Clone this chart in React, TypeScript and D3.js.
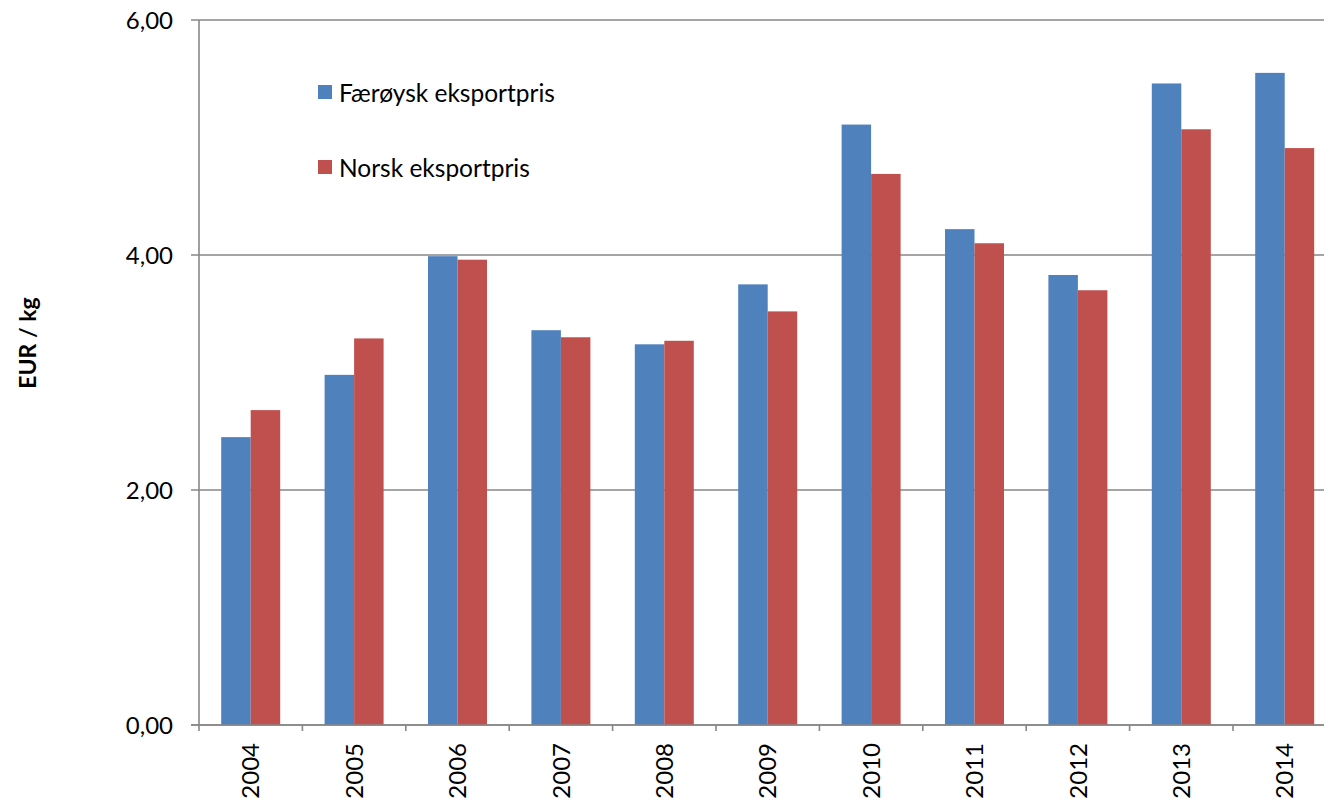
import React from "react";
import * as d3 from "d3";

const years = ["2004","2005","2006","2007","2008","2009","2010","2011","2012","2013","2014"];
const faroese = [2.45, 2.98, 3.99, 3.36, 3.24, 3.75, 5.11, 4.22, 3.83, 5.46, 5.55];
const norwegian = [2.68, 3.29, 3.96, 3.30, 3.27, 3.52, 4.69, 4.10, 3.70, 5.07, 4.91];
const yTicks = [0, 2, 4, 6];
const seriesNames = ["Færøysk eksportpris", "Norsk eksportpris"];
const seriesColors = ["#4F81BD", "#C0504D"];
const seriesValues = [faroese, norwegian];

const W = 1324, H = 798;
const FONT = "Lato, 'Liberation Sans', Arial, sans-serif";

export default function App() {
  const left = 199, top = 20, bottom = 725;
  const step = 103.4;
  const x = d3.scaleBand<string>().domain(years).range([left, left + step * years.length]).paddingInner(0).paddingOuter(0);
  const xs = d3.scaleBand<number>().domain([0, 1]).range([0, x.bandwidth()]).paddingInner(0).paddingOuter(0.7525);
  const y = d3.scaleLinear().domain([0, 6]).range([bottom, top]);
  const fmt = (v: number) => v.toFixed(2).replace(".", ",");
  const grid = "#878787";

  return (
    <svg width={W} height={H} style={{ position: "absolute", left: 0, top: 0, background: "#fff" }}>
      {yTicks.map((t) => (
        <g key={t}>
          <line x1={191} x2={W} y1={y(t)} y2={y(t)} stroke={grid} strokeWidth={1.6} />
          <text x={173} y={y(t)} dy="0.36em" textAnchor="end" fontFamily={FONT} fontSize={24} fill="#000">
            {fmt(t)}
          </text>
        </g>
      ))}
      {years.map((yr, i) => (
        <g key={yr}>
          {seriesValues.map((vals, s) => (
            <rect
              key={s}
              x={(x(yr) as number) + (xs(s) as number)}
              y={y(vals[i])}
              width={xs.bandwidth()}
              height={y(0) - y(vals[i])}
              fill={seriesColors[s]}
            />
          ))}
        </g>
      ))}
      <line x1={left} x2={left} y1={top} y2={bottom + 6} stroke={grid} strokeWidth={1.6} />
      <line x1={191} x2={W} y1={bottom} y2={bottom} stroke={grid} strokeWidth={1.6} />
      {years.map((yr) => (
        <line key={"t" + yr} x1={(x(yr) as number) + step} x2={(x(yr) as number) + step} y1={bottom} y2={bottom + 6} stroke={grid} strokeWidth={1.6} />
      ))}
      {years.map((yr) => {
        const cx = (x(yr) as number) + x.bandwidth() / 2;
        return (
          <text
            key={"l" + yr}
            transform={`translate(${cx},743) rotate(-90)`}
            textAnchor="end"
            dy="0.36em"
            fontFamily={FONT}
            fontSize={24}
            fill="#000"
          >
            {yr}
          </text>
        );
      })}
      <text
        transform={`translate(28,343) rotate(-90)`}
        textAnchor="middle"
        dy="0.36em"
        fontFamily={FONT}
        fontWeight="bold"
        fontSize={23}
        fill="#000"
      >
        EUR / kg
      </text>
      {seriesNames.map((n, s) => (
        <g key={n} transform={`translate(318,${85 + s * 75})`}>
          <rect x={0} y={0} width={14} height={14} fill={seriesColors[s]} />
          <text x={21} y={17} fontFamily={FONT} fontSize={24.5} fill="#000">
            {n}
          </text>
        </g>
      ))}
    </svg>
  );
}
